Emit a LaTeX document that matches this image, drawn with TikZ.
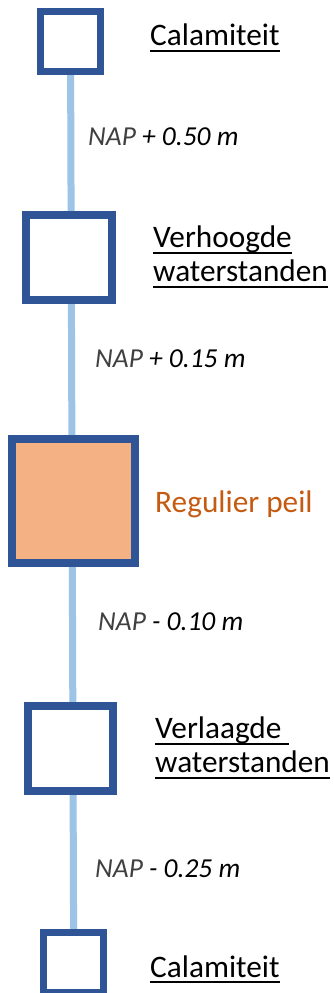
\documentclass[tikz,border=0pt]{standalone}
\usepackage{fontspec}
\setmainfont{Carlito}
\usepackage{tikz}
\usetikzlibrary{backgrounds}

\definecolor{lvlblue}{HTML}{2F5597}
\definecolor{axisblue}{HTML}{9DC3E6}
\definecolor{peilfill}{HTML}{F4B183}
\definecolor{peiltext}{HTML}{C55A11}
\definecolor{napgray}{HTML}{404040}

% underline a level name
\newsavebox{\ulbox}
\newcommand{\lvlul}[1]{\sbox{\ulbox}{#1}\rlap{\rule[-5pt]{\wd\ulbox}{1.5pt}}\usebox{\ulbox}}

\begin{document}
\begin{tikzpicture}[x=0.03cm, y=-0.03cm,
    lvlbox/.style={rectangle, draw=lvlblue, fill=white, inner sep=0pt},
    boxsmall/.style={lvlbox, minimum size=1.80cm, line width=0.21cm},
    boxmedium/.style={lvlbox, minimum size=2.56cm, line width=0.24cm},
    boxbig/.style={lvlbox, minimum size=3.69cm, line width=0.24cm, fill=peilfill},
    axis/.style={axisblue, line width=0.21cm},
    lvlname/.style={font=\fontsize{26.7}{29}\selectfont, align=left, inner sep=0pt},
    nap/.style={font=\fontsize{23.4}{27}\selectfont\itshape, inner sep=0pt, anchor=base west}]

    % picture frame
    \clip (0,0) rectangle (333,993);

    % level boxes
    \node[boxsmall] (cal1) at (70.5,41.5) {};
    \node[boxmedium] (hoog) at (69,257.5) {};
    \node[boxbig] (peil) at (73.5,501) {};
    \node[boxmedium] (laag) at (70.5,748.5) {};
    \node[boxsmall] (cal2) at (73.7,962.5) {};

    % vertical axis behind the boxes
    \begin{scope}[on background layer]
        \draw[axis] (cal1.center) -- (cal2.center);
    \end{scope}

    % level names
    \node[lvlname, anchor=base west] (tcal1) at (150,46) {\lvlul{Calamiteit}};
    \node[lvlname, anchor=west] (thoog) at (153,257) {\lvlul{Verhoogde}\\ \lvlul{waterstanden}};
    \node[lvlname, anchor=base west, text=peiltext] (tpeil) at (155,512) {Regulier peil};
    \node[lvlname, anchor=west] (tlaag) at (155,748) {\lvlul{Verlaagde\ }\\ \lvlul{waterstanden}};
    \node[lvlname, anchor=base west] (tcal2) at (150,977) {\lvlul{Calamiteit}};

    % boundaries between levels
    \node[nap] (n1) at (88,146) {{\color{napgray}NAP} + 0.50 m};
    \node[nap] (n2) at (95,367) {{\color{napgray}NAP} + 0.15 m};
    \node[nap] (n3) at (98,630) {{\color{napgray}NAP} - 0.10 m};
    \node[nap] (n4) at (95,877) {{\color{napgray}NAP} - 0.25 m};

\end{tikzpicture}
\end{document}
